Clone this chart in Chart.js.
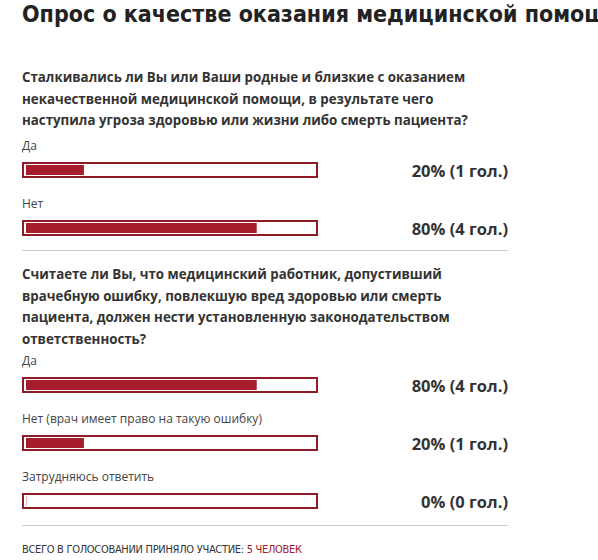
<!DOCTYPE html>
<html><head><meta charset="utf-8">
<script src="https://cdn.jsdelivr.net/npm/chart.js@4"></script>
<style>
body{margin:0;width:598px;height:560px;overflow:hidden;background:#fff;font-family:"Open Sans",sans-serif;color:#333;position:relative}
.a{position:absolute;white-space:nowrap}
.t{left:22px;top:1px;font:bold 23px "DejaVu Sans Condensed","Open Sans";color:#222}
.q{left:22px;font-weight:bold;font-size:13.3px;line-height:21.5px;color:#333}
.l{left:22px;font-size:12px;color:#444}
.p{right:90px;font-weight:bold;font-size:16.5px;color:#333}
.box{position:absolute;left:22px;width:292px;height:12px;border:2px solid #8e1b25;padding:0}
.box canvas{display:block}
.hr{position:absolute;left:22px;width:486px;height:1px;background:#ccc}
.f{left:22px;top:543px;font-size:11px;color:#333;font-family:"DejaVu Sans Condensed";letter-spacing:-0.3px}
</style></head><body>
<div class="a t">Опрос о качестве оказания медицинской помощи</div>
<div class="a q" style="top:67px">Сталкивались ли Вы или Ваши родные и близкие с оказанием<br>некачественной медицинской помощи, в результате чего<br>наступила угроза здоровью или жизни либо смерть пациента?</div>
<div class="a q" style="top:264px">Считаете ли Вы, что медицинский работник, допустивший<br>врачебную ошибку, повлекшую вред здоровью или смерть<br>пациента, должен нести установленную законодательством<br>ответственность?</div>
<div class="hr" style="top:250px"></div>
<div class="hr" style="top:525px"></div>
<div class="a f">ВСЕГО В ГОЛОСОВАНИИ ПРИНЯЛО УЧАСТИЕ: <span style="color:#a31b2a">5 ЧЕЛОВЕК</span></div>
<div id="root"></div>
<script>
const answers = ["Да","Нет","Да","Нет (врач имеет право на такую ошибку)","Затрудняюсь ответить"];
const percents = [20,80,80,20,0];
const votes = [1,4,4,1,0];
const barTops = [162,220,377,435,493];
const root = document.getElementById('root');
answers.forEach((a,i)=>{
  const lab=document.createElement('div');lab.className='a l';lab.style.top=(barTops[i]-25)+'px';lab.textContent=a;root.appendChild(lab);
  const p=document.createElement('div');p.className='a p';p.style.top=(barTops[i]-3)+'px';p.textContent=percents[i]+'% ('+votes[i]+' гол.)';root.appendChild(p);
  const box=document.createElement('div');box.className='box';box.style.top=barTops[i]+'px';
  const c=document.createElement('canvas');box.appendChild(c);root.appendChild(box);
  new Chart(c,{type:'bar',data:{labels:[a],datasets:[{data:[percents[i]],backgroundColor:'#a51d2b',barPercentage:1,categoryPercentage:1}]},
   options:{indexAxis:'y',responsive:false,maintainAspectRatio:false,animation:false,events:[],
    layout:{padding:{left:2,right:2,top:1,bottom:1}},
    plugins:{legend:{display:false},tooltip:{enabled:false}},
    scales:{x:{display:false,min:0,max:100},y:{display:false}}}});
});
document.querySelectorAll('.box canvas').forEach(c=>{const ch=Chart.getChart(c);ch.resize(292,12);});
</script>
</body></html>
